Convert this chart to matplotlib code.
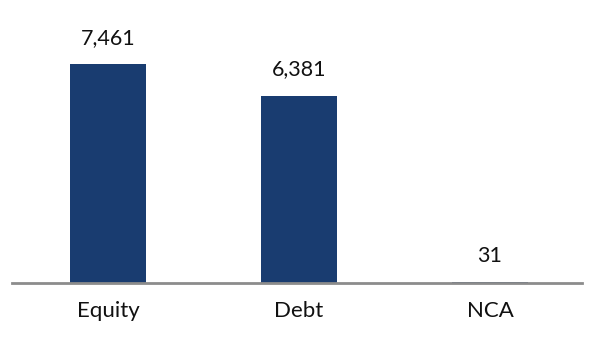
import matplotlib
matplotlib.use("Agg")
import matplotlib.pyplot as plt

categories = ["Equity", "Debt", "NCA"]
values = [7461, 6381, 31]
value_labels = ["7,461", "6,381", "31"]

plt.rcParams['font.family'] = ['Lato', 'DejaVu Sans']

fig = plt.figure(figsize=(5.94, 3.43), dpi=100)
ax = fig.add_axes([12/594, 60/343, 570/594, (283-19)/343])
x = list(range(len(categories)))
ax.bar(x, values, width=0.4, color="#193c70", zorder=2)
ax.set_xlim(-0.503, 2.482)
ax.set_ylim(0, 9000)
for xi, v, lab in zip(x, values, value_labels):
    ax.annotate(lab, (xi, v), xytext=(0, 19), textcoords="offset points",
                ha="center", va="center", fontsize=15.5, color="#111111")
ax.set_xticks(x)
ax.set_xticklabels(categories, fontsize=16, color="#111111")
ax.tick_params(axis="x", length=0, pad=13)
ax.set_yticks([])
for s in ["top", "right", "left"]:
    ax.spines[s].set_visible(False)
ax.spines["bottom"].set_color("#8c8c8c")
ax.spines["bottom"].set_linewidth(2)
fig.savefig("out.png", dpi=100)
